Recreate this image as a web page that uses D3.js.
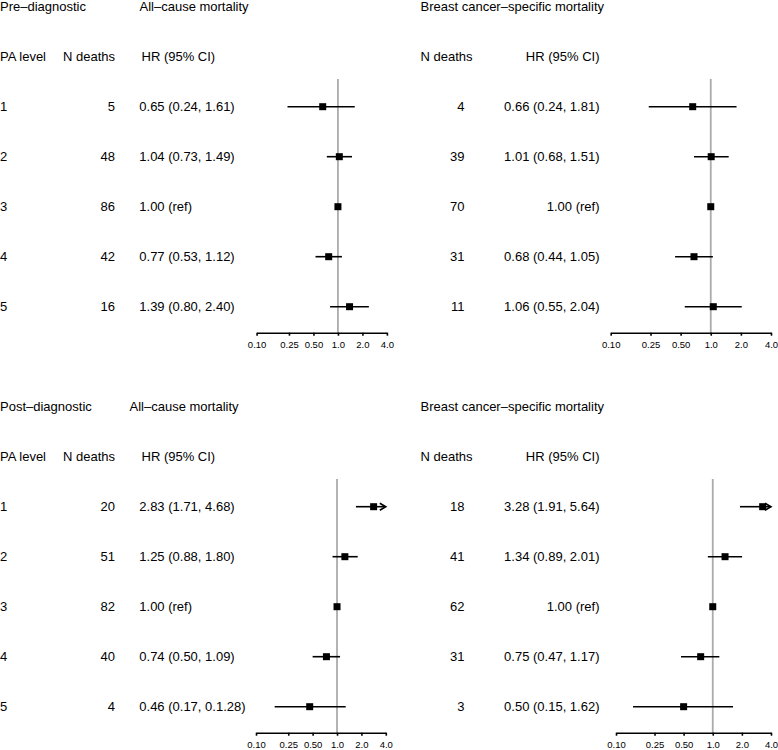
<!DOCTYPE html>
<html>
<head>
<meta charset="utf-8">
<script src="https://cdn.jsdelivr.net/npm/d3@7/dist/d3.min.js"></script>
<style>
  html, body { margin: 0; padding: 0; background: #fff; }
  svg { display: block; font-family: "Liberation Sans", Arial, Helvetica, sans-serif; }
  text { fill: #000; }
</style>
</head>
<body>
<svg id="chart" width="778" height="750"></svg>
<script>
// ---------------- DATA ----------------
const paLevels = ["1", "2", "3", "4", "5"];
const tickValues = [0.10, 0.25, 0.50, 1.0, 2.0, 4.0];
const tickLabels = ["0.10", "0.25", "0.50", "1.0", "2.0", "4.0"];

// Pre-diagnostic, all-cause mortality
const preAllDeaths = [5, 48, 86, 42, 16];
const preAllHR     = [0.65, 1.04, 1.00, 0.77, 1.39];
const preAllLo     = [0.24, 0.73, 1.00, 0.53, 0.80];
const preAllHi     = [1.61, 1.49, 1.00, 1.12, 2.40];
const preAllText   = ["0.65 (0.24, 1.61)", "1.04 (0.73, 1.49)", "1.00 (ref)", "0.77 (0.53, 1.12)", "1.39 (0.80, 2.40)"];

// Pre-diagnostic, breast cancer-specific mortality
const preBcDeaths = [4, 39, 70, 31, 11];
const preBcHR     = [0.66, 1.01, 1.00, 0.68, 1.06];
const preBcLo     = [0.24, 0.68, 1.00, 0.44, 0.55];
const preBcHi     = [1.81, 1.51, 1.00, 1.05, 2.04];
const preBcText   = ["0.66 (0.24, 1.81)", "1.01 (0.68, 1.51)", "1.00 (ref)", "0.68 (0.44, 1.05)", "1.06 (0.55, 2.04)"];

// Post-diagnostic, all-cause mortality
const postAllDeaths = [20, 51, 82, 40, 4];
const postAllHR     = [2.83, 1.25, 1.00, 0.74, 0.46];
const postAllLo     = [1.71, 0.88, 1.00, 0.50, 0.17];
const postAllHi     = [4.68, 1.80, 1.00, 1.09, 1.28];
const postAllText   = ["2.83 (1.71, 4.68)", "1.25 (0.88, 1.80)", "1.00 (ref)", "0.74 (0.50, 1.09)", "0.46 (0.17, 0.1.28)"];

// Post-diagnostic, breast cancer-specific mortality
const postBcDeaths = [18, 41, 62, 31, 3];
const postBcHR     = [3.28, 1.34, 1.00, 0.75, 0.50];
const postBcLo     = [1.91, 0.89, 1.00, 0.47, 0.15];
const postBcHi     = [5.64, 2.01, 1.00, 1.17, 1.62];
const postBcText   = ["3.28 (1.91, 5.64)", "1.34 (0.89, 2.01)", "1.00 (ref)", "0.75 (0.47, 1.17)", "0.50 (0.15, 1.62)"];

// ---------------- LAYOUT ----------------
const svg = d3.select("#chart");
const FS = 13;
const rowStep = 50;

const blocks = [
  { label: "Pre–diagnostic", top: 0, allTitleX: 139.5,
    all: { deaths: preAllDeaths, hr: preAllHR, lo: preAllLo, hi: preAllHi, text: preAllText, range: [256.6, 386.9] },
    bc:  { deaths: preBcDeaths, hr: preBcHR, lo: preBcLo, hi: preBcHi, text: preBcText, range: [610.7, 771] } },
  { label: "Post–diagnostic", top: 400, allTitleX: 129.5,
    all: { deaths: postAllDeaths, hr: postAllHR, lo: postAllLo, hi: postAllHi, text: postAllText, range: [256, 385.8] },
    bc:  { deaths: postBcDeaths, hr: postBcHR, lo: postBcLo, hi: postBcHi, text: postBcText, range: [616, 771] } }
];

function txt(g, x, y, s, anchor, size) {
  g.append("text")
    .attr("x", x).attr("y", y)
    .attr("dy", "0.36em")
    .attr("text-anchor", anchor || "start")
    .attr("font-size", size || FS)
    .text(s);
}

function drawForest(g, d, top) {
  const x = d3.scaleLog().domain([tickValues[0], tickValues[tickValues.length - 1]]).range(d.range);
  const maxV = tickValues[tickValues.length - 1];
  const rowY = i => top + 6.7 + rowStep * (i + 2);
  const axisY = top + 332.7;

  // reference line
  g.append("line")
    .attr("x1", x(1)).attr("x2", x(1))
    .attr("y1", top + 79).attr("y2", axisY)
    .attr("stroke", "#ababab").attr("stroke-width", 1.8);

  // axis
  const axis = d3.axisBottom(x)
    .tickValues(tickValues)
    .tickFormat((v, i) => tickLabels[i])
    .tickSizeInner(3).tickSizeOuter(0).tickPadding(6);
  const ag = g.append("g").attr("transform", `translate(0,${axisY})`).call(axis);
  ag.select(".domain").attr("stroke", "#000").attr("stroke-width", 1.6);
  ag.selectAll(".tick line").attr("stroke", "#000").attr("stroke-width", 1.6);
  ag.selectAll(".tick text").attr("font-size", 9.5).attr("fill", "#000")
    .attr("font-family", "'Liberation Sans', Arial, sans-serif");

  // CI lines + boxes
  d.hr.forEach((hr, i) => {
    const y = rowY(i);
    const lo = d.lo[i], hi = d.hi[i];
    const clipped = hi > maxV;
    const xHi = clipped ? x(maxV) : x(hi);
    if (lo !== hi) {
      g.append("line")
        .attr("x1", x(lo)).attr("x2", clipped ? xHi - 1 : xHi)
        .attr("y1", y).attr("y2", y)
        .attr("stroke", "#000").attr("stroke-width", 1.6);
    }
    if (clipped) {
      g.append("path")
        .attr("d", `M${xHi - 6},${y - 3.5}L${xHi},${y}L${xHi - 6},${y + 3.5}`)
        .attr("fill", "none").attr("stroke", "#000").attr("stroke-width", 1.6);
    }
    const s = 7;
    g.append("rect")
      .attr("x", x(hr) - s / 2).attr("y", y - s / 2)
      .attr("width", s).attr("height", s)
      .attr("fill", "#000");
  });
}

blocks.forEach(b => {
  const g = svg.append("g");
  const t = b.top;
  const rowY = i => t + 6.7 + rowStep * i;

  // Left block texts
  txt(g, 0, rowY(0), b.label);
  txt(g, b.allTitleX, rowY(0), "All–cause mortality");
  txt(g, 0, rowY(1), "PA level");
  txt(g, 115, rowY(1), "N deaths", "end");
  txt(g, 141.5, rowY(1), "HR (95% CI)");
  paLevels.forEach((p, i) => {
    txt(g, 0, rowY(i + 2), p);
    txt(g, 115, rowY(i + 2), String(b.all.deaths[i]), "end");
    txt(g, 139.3, rowY(i + 2), b.all.text[i]);
  });

  // Right block texts
  txt(g, 420.5, rowY(0), "Breast cancer–specific mortality");
  txt(g, 420.5, rowY(1), "N deaths");
  txt(g, 599.5, rowY(1), "HR (95% CI)", "end");
  paLevels.forEach((p, i) => {
    txt(g, 464.5, rowY(i + 2), String(b.bc.deaths[i]), "end");
    txt(g, 599.5, rowY(i + 2), b.bc.text[i], "end");
  });

  drawForest(g, b.all, t);
  drawForest(g, b.bc, t);
});
</script>
</body>
</html>
